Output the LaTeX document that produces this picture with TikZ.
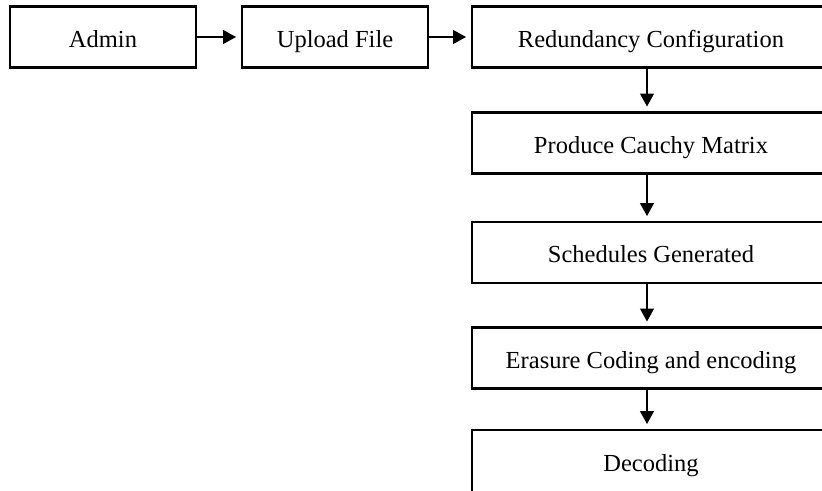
\documentclass[tikz,border=0pt]{standalone}
\usepackage{fontspec}
\setmainfont{Liberation Serif}
\usetikzlibrary{arrows.meta}
\begin{document}
\begin{tikzpicture}[x=1pt,y=-1pt,
  stepbox/.style={draw, line width=2.4pt, inner sep=0pt, outer sep=0pt,
    font=\fontsize{24.5}{29}\selectfont, minimum height=61pt,
    text height=20pt, text depth=0pt},
  flow/.style={line width=1.3pt, -{Triangle[length=13pt,width=14pt]},
    shorten >=6pt}]
  % page frame; the right-hand column runs past the right and bottom edges
  \useasboundingbox (0,0) rectangle (822,490);
  \fill[white] (0,0) rectangle (822,490);
  \clip (0,0) rectangle (822,490);

  % top row
  \node[stepbox, minimum width=186pt] (admin)  at (103,37) {Admin};
  \node[stepbox, minimum width=186pt] (upload) at (335,37) {Upload File};
  \node[stepbox, minimum width=358pt] (redund) at (651,37) {Redundancy Configuration};

  % right-hand column
  \node[stepbox, minimum width=358pt] (cauchy)  at (651,143)   {Produce Cauchy Matrix};
  \node[stepbox, minimum width=358pt] (sched)   at (651,252.5) {Schedules Generated};
  \node[stepbox, minimum width=358pt] (erasure) at (651,358)   {Erasure Coding and encoding};
  \node[stepbox, minimum width=358pt, minimum height=80pt, text depth=18pt]
    (decode) at (651,470) {Decoding};

  % connectors
  \draw[flow] (admin.east) -- (upload.west);
  \draw[flow] (upload.east) -- (redund.west);
  \draw[flow] ([xshift=-4pt]redund.south)  -- ([xshift=-4pt]cauchy.north);
  \draw[flow] ([xshift=-4pt]cauchy.south)  -- ([xshift=-4pt]sched.north);
  \draw[flow] ([xshift=-4pt]sched.south)   -- ([xshift=-4pt]erasure.north);
  \draw[flow] ([xshift=-4pt]erasure.south) -- ([xshift=-4pt]decode.north);
\end{tikzpicture}
\end{document}
